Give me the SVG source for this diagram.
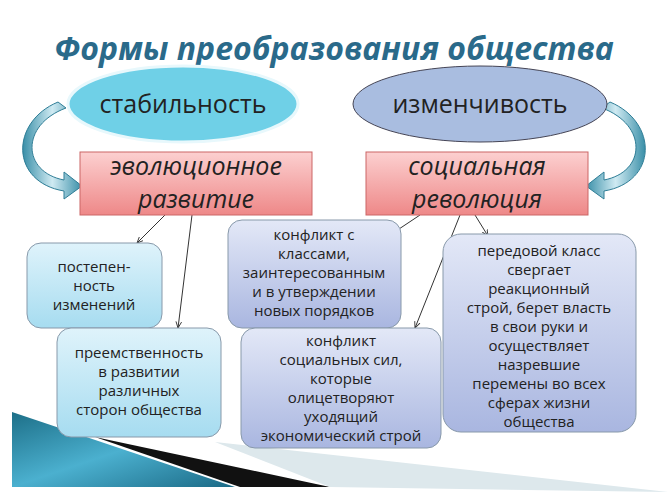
<svg xmlns="http://www.w3.org/2000/svg" width="668" height="500" viewBox="0 0 668 500">
<defs>
<linearGradient id="red" x1="0" y1="0" x2="0" y2="1"><stop offset="0" stop-color="#fcd0d0"/><stop offset="1" stop-color="#ee8888"/></linearGradient>
<linearGradient id="blue" x1="0" y1="0" x2="0" y2="1"><stop offset="0" stop-color="#dff3fb"/><stop offset="1" stop-color="#a6dcf0"/></linearGradient>
<linearGradient id="lav" x1="0" y1="0" x2="0" y2="1"><stop offset="0" stop-color="#e3e8f7"/><stop offset="1" stop-color="#a9b6e0"/></linearGradient>
<linearGradient id="teal" x1="0" y1="0" x2="1" y2="1"><stop offset="0" stop-color="#1d6f88"/><stop offset="0.5" stop-color="#4bb0cf"/><stop offset="1" stop-color="#1b6a86"/></linearGradient>
<linearGradient id="arr" x1="0" y1="0" x2="1" y2="0"><stop offset="0" stop-color="#3a8fa8"/><stop offset="0.5" stop-color="#cfeaf2"/><stop offset="1" stop-color="#3a8fa8"/></linearGradient>
<marker id="ah" viewBox="0 0 10 10" refX="9" refY="5" markerWidth="7" markerHeight="7" orient="auto"><path d="M0,1 L9,5 L0,9" fill="none" stroke="#333" stroke-width="1.3"/></marker>
</defs>
<style>
text{font-family:"Open Sans","DejaVu Sans",sans-serif;fill:#222;text-anchor:middle}
.b{font-size:15px}
.h{font-size:25px;font-style:italic}
.e{font-size:25px}
.box{stroke:#8899aa;stroke-width:1}
.ln{stroke:#333;stroke-width:1;fill:none;marker-end:url(#ah)}
</style>
<rect width="668" height="500" fill="#fff"/>
<g id="wedge">
<polygon points="12,412 235,487 12,487" fill="url(#teal)"/>
<polygon points="95,437 330,487 240,487" fill="#111"/>
<polygon points="215,442 668,492 330,487" fill="#dde8ec"/>
</g>
<text x="334" y="60" style="font-size:32px;fill:#2a6a8a;font-weight:bold;font-style:italic">Формы преобразования общества</text>
<g id="connectors">
<path d="M66,108 C20,125 22,172 64,180 L64,172 L82,186 L64,199 L64,191 C10,182 10,122 58,102 Z" fill="url(#arr)" stroke="#2e7d96"/>
<path d="M602,108 C648,125 646,172 604,180 L604,172 L586,186 L604,199 L604,191 C658,182 658,122 610,102 Z" fill="url(#arr)" stroke="#2e7d96"/>
<line class="ln" x1="165" y1="215" x2="137" y2="243"/>
<line class="ln" x1="192" y1="215" x2="178" y2="328"/>
<line class="ln" x1="420" y1="215" x2="378" y2="243"/>
<line class="ln" x1="460" y1="215" x2="415" y2="328"/>
<line class="ln" x1="475" y1="215" x2="488" y2="236"/>
</g>
<g id="stab"><ellipse cx="183" cy="104" rx="115" ry="38" fill="#6fd0e7" stroke="#e8f8fc" stroke-width="3"/><text class="e" x="183" y="113">стабильность</text></g>
<g id="izm"><ellipse cx="480" cy="104" rx="127" ry="38" fill="#a9bde0" stroke="#445" stroke-width="1"/><text class="e" x="480" y="113">изменчивость</text></g>
<g id="evo"><rect x="80" y="152" width="232" height="63" fill="url(#red)" stroke="#c66"/><text class="h" x="196" y="175">эволюционное</text><text class="h" x="196" y="208">развитие</text></g>
<g id="rev"><rect x="366" y="152" width="222" height="63" fill="url(#red)" stroke="#c66"/><text class="h" x="477" y="175">социальная</text><text class="h" x="477" y="208">революция</text></g>
<g id="n1"><rect class="box" x="27" y="243" width="135" height="85" rx="14" fill="url(#blue)"/><text class="b" x="94" y="272">постепен-</text><text class="b" x="94" y="291">ность</text><text class="b" x="94" y="310">изменений</text></g>
<g id="n2"><rect class="box" x="57" y="328" width="164" height="109" rx="14" fill="url(#blue)"/><text class="b" x="139" y="358">преемственность</text><text class="b" x="139" y="377">в развитии</text><text class="b" x="139" y="396">различных</text><text class="b" x="139" y="415">сторон общества</text></g>
<g id="n3"><rect class="box" x="228" y="220" width="173" height="108" rx="14" fill="url(#lav)"/><text class="b" x="314" y="240">конфликт с</text><text class="b" x="314" y="259">классами,</text><text class="b" x="314" y="278">заинтересованным</text><text class="b" x="314" y="297">и в утверждении</text><text class="b" x="314" y="316">новых порядков</text></g>
<g id="n4"><rect class="box" x="241" y="328" width="200" height="120" rx="14" fill="url(#lav)"/><text class="b" x="341" y="346">конфликт</text><text class="b" x="341" y="365">социальных сил,</text><text class="b" x="341" y="384">которые</text><text class="b" x="341" y="403">олицетворяют</text><text class="b" x="341" y="422">уходящий</text><text class="b" x="341" y="441">экономический строй</text></g>
<g id="n5"><rect class="box" x="443" y="234" width="193" height="198" rx="18" fill="url(#lav)"/><text class="b" x="539" y="256">передовой класс</text><text class="b" x="539" y="275">свергает</text><text class="b" x="539" y="294">реакционный</text><text class="b" x="539" y="313">строй, берет власть</text><text class="b" x="539" y="332">в свои руки и</text><text class="b" x="539" y="351">осуществляет</text><text class="b" x="539" y="370">назревшие</text><text class="b" x="539" y="389">перемены во всех</text><text class="b" x="539" y="408">сферах жизни</text><text class="b" x="539" y="427">общества</text></g>
</svg>
